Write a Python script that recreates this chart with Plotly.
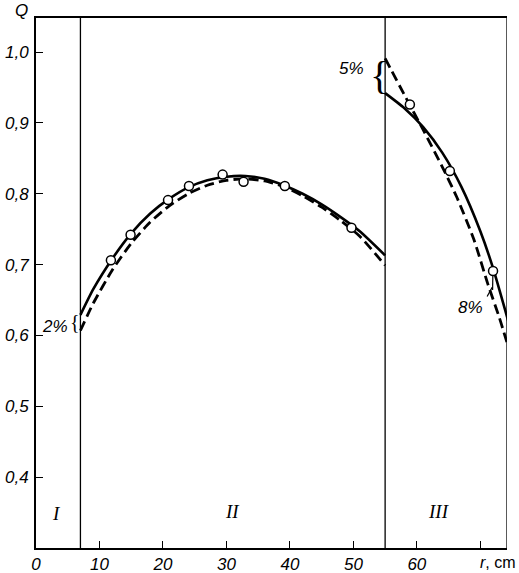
import plotly.graph_objects as go

# Radius r (cm) and relative quantity Q
r_measured = [11.8, 14.9, 20.8, 24.1, 29.4, 32.7, 39.2, 49.7, 58.9, 65.2, 72.0]
q_measured = [0.706, 0.742, 0.791, 0.811, 0.827, 0.817, 0.811, 0.752, 0.926, 0.832, 0.691]

# Zone II curves
r_zone2 = [7, 9, 12, 15, 18, 21, 24, 27, 30, 33, 36, 39, 42, 45, 48, 51, 55]
q_zone2_calc = [0.629, 0.665, 0.708, 0.744, 0.772, 0.793, 0.809, 0.819, 0.824,
                0.825, 0.821, 0.812, 0.800, 0.785, 0.767, 0.747, 0.713]
q_zone2_approx = [0.607, 0.645, 0.692, 0.730, 0.760, 0.783, 0.800, 0.812, 0.819,
                  0.821, 0.818, 0.810, 0.797, 0.781, 0.762, 0.740, 0.699]

# Zone III curves
r_zone3_calc = [55, 58, 61, 64, 67, 70, 72, 74.5]
q_zone3_calc = [0.942, 0.921, 0.894, 0.858, 0.810, 0.747, 0.695, 0.617]
r_zone3_approx = [55, 58, 61, 64, 66.3, 69, 71.2, 73, 74.5]
q_zone3_approx = [0.991, 0.940, 0.890, 0.838, 0.795, 0.735, 0.672, 0.625, 0.581]

zone_bounds = [7, 55]
x_ticks = [0, 10, 20, 30, 40, 50, 60, 70]
x_ticktext = ["0", "10", "20", "30", "40", "50", "60", ""]
y_ticks = [0.4, 0.5, 0.6, 0.7, 0.8, 0.9, 1.0]
y_ticktext = ["0,4", "0,5", "0,6", "0,7", "0,8", "0,9", "1,0"]

X_RANGE = [0, 74.2]
Y_RANGE = [0.3, 1.048]

fig = go.Figure()

solid = dict(color="black", width=2.6, shape="spline", smoothing=0.6)
dashed = dict(color="black", width=2.8, dash="10px,5px", shape="spline", smoothing=0.6)

fig.add_trace(go.Scatter(x=r_zone2, y=q_zone2_approx, mode="lines", line=dashed))
fig.add_trace(go.Scatter(x=r_zone2, y=q_zone2_calc, mode="lines", line=solid))
fig.add_trace(go.Scatter(x=r_zone3_approx, y=q_zone3_approx, mode="lines", line=dashed))
fig.add_trace(go.Scatter(x=r_zone3_calc, y=q_zone3_calc, mode="lines", line=solid))
fig.add_trace(go.Scatter(
    x=r_measured, y=q_measured, mode="markers",
    marker=dict(symbol="circle", size=9, color="white",
                line=dict(color="black", width=1.5)),
))

# zone boundaries
for xb in zone_bounds:
    fig.add_shape(type="line", x0=xb, x1=xb, y0=Y_RANGE[0], y1=Y_RANGE[1],
                  xref="x", yref="y", line=dict(color="black", width=1.3))
# right frame edge
fig.add_shape(type="line", x0=X_RANGE[1], x1=X_RANGE[1], y0=Y_RANGE[0], y1=Y_RANGE[1],
              xref="x", yref="y", line=dict(color="black", width=1.3))

# pointer for the 8% label
fig.add_shape(type="line", x0=71.97, x1=71.93, y0=0.685, y1=0.664,
              line=dict(color="black", width=1.2))
fig.add_shape(type="line", x0=71.07, x1=71.86, y0=0.655, y1=0.668,
              line=dict(color="black", width=1.2))

lab_font = dict(family="Liberation Sans", size=17, color="black", style="italic")
roman_font = dict(family="Liberation Serif", size=19, color="black", style="italic")
brace_font = "Liberation Serif"

ann = [
    dict(x=3.3, y=0.349, text="I", font=roman_font),
    dict(x=30.9, y=0.351, text="II", font=roman_font),
    dict(x=63.5, y=0.351, text="III", font=roman_font),
    dict(x=3.0, y=0.613, text="2%", font=lab_font),
    dict(x=6.1, y=0.619, text="{", font=dict(family=brace_font, size=20, color="black")),
    dict(x=49.7, y=0.977, text="5%", font=lab_font),
    dict(x=54.1, y=0.967, text="{", font=dict(family=brace_font, size=40, color="black")),
    dict(x=68.4, y=0.639, text="8%", font=lab_font),
]
annotations = [dict(a, xref="x", yref="y", showarrow=False,
                    xanchor="center", yanchor="middle") for a in ann]
annotations += [
    dict(x=-0.03, y=1.015, xref="paper", yref="paper", text="Q", showarrow=False,
         font=lab_font, xanchor="center", yanchor="middle"),
    dict(x=0.981, y=-0.027, xref="paper", yref="paper", text="<i>r</i>, cm",
         showarrow=False, font=dict(family="Liberation Sans", size=16, color="black"),
         xanchor="center", yanchor="middle"),
]

fig.update_layout(
    width=519, height=573,
    margin=dict(l=36, r=12, t=18, b=25, autoexpand=False),
    paper_bgcolor="white", plot_bgcolor="white",
    showlegend=False,
    annotations=annotations,
    xaxis=dict(range=X_RANGE, tickvals=x_ticks, ticktext=x_ticktext,
               ticks="inside", ticklen=7, tickwidth=1.3, tickcolor="black",
               showgrid=False, zeroline=False, automargin=False,
               showline=True, linecolor="black", linewidth=2, mirror=True,
               tickfont=lab_font, ticklabelstandoff=0),
    yaxis=dict(range=Y_RANGE, tickvals=y_ticks, ticktext=y_ticktext,
               ticks="inside", ticklen=7, tickwidth=1.3, tickcolor="black",
               showgrid=False, zeroline=False, automargin=False,
               showline=True, linecolor="black", linewidth=2,
               tickfont=lab_font, ticklabelstandoff=2),
)

fig.write_html("out.html")
